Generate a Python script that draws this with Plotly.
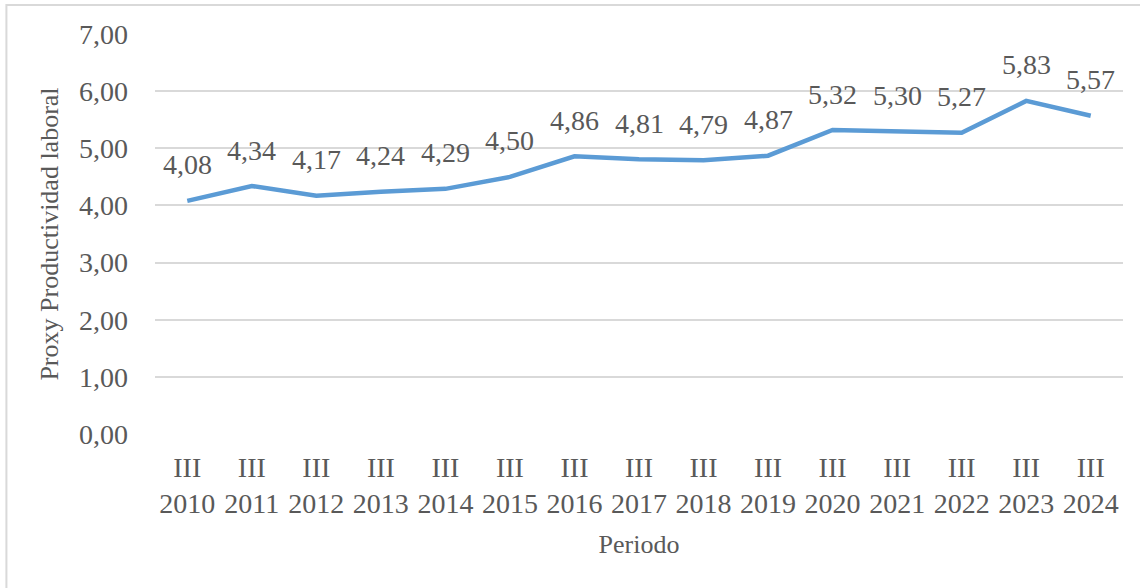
import plotly.graph_objects as go

# Third-quarter periods and the labour-productivity proxy values
quarters = ["III"] * 15
years = [str(y) for y in range(2010, 2025)]
productividad = [4.08, 4.34, 4.17, 4.24, 4.29, 4.50, 4.86, 4.81, 4.79, 4.87,
                 5.32, 5.30, 5.27, 5.83, 5.57]
y_ticks = [0, 1, 2, 3, 4, 5, 6, 7]

periodos = [f"{q}<br>{y}" for q, y in zip(quarters, years)]

def coma(v):
    return f"{v:.2f}".replace(".", ",")

FONT = "Liberation Serif, Times New Roman, serif"
GRAY = "#595959"

fig = go.Figure()
fig.add_trace(go.Scatter(
    x=periodos,
    y=productividad,
    mode="lines",
    line=dict(color="#5b9bd5", width=4.5),
    hoverinfo="skip",
    showlegend=False,
))

# Value labels above each point
for p, v in zip(periodos, productividad):
    fig.add_annotation(
        x=p, y=v, text=coma(v), showarrow=False,
        yshift=36, font=dict(family=FONT, size=28, color=GRAY),
    )

fig.update_layout(
    width=1140,
    height=588,
    paper_bgcolor="white",
    plot_bgcolor="white",
    margin=dict(l=155, r=17, t=34, b=154),
    font=dict(family=FONT, color=GRAY),
    xaxis=dict(
        type="category",
        showgrid=False,
        zeroline=False,
        showline=False,
        ticks="",
        ticklabelstandoff=14,
        tickfont=dict(family=FONT, size=28, color=GRAY),
        title=dict(text="Periodo", font=dict(family=FONT, size=26, color=GRAY),
                   standoff=16),
        range=[-0.5, len(periodos) - 0.5],
    ),
    yaxis=dict(
        range=[0, 7],
        tickvals=y_ticks,
        ticktext=[coma(t) for t in y_ticks],
        showgrid=True,
        gridcolor="#d9d9d9",
        gridwidth=2,
        zeroline=False,
        showline=False,
        ticks="",
        ticklabelstandoff=26,
        tickfont=dict(family=FONT, size=28, color=GRAY),
        title=dict(text="Proxy Productividad laboral",
                   font=dict(family=FONT, size=26, color=GRAY), standoff=12),
    ),
    shapes=[dict(
        type="rect", xref="paper", yref="paper",
        x0=-0.1535, x1=1.2, y0=-0.6, y1=1.0725,
        line=dict(color="#d9d9d9", width=2), fillcolor="rgba(0,0,0,0)",
        layer="below",
    )],
)

fig.write_html("out.html")
